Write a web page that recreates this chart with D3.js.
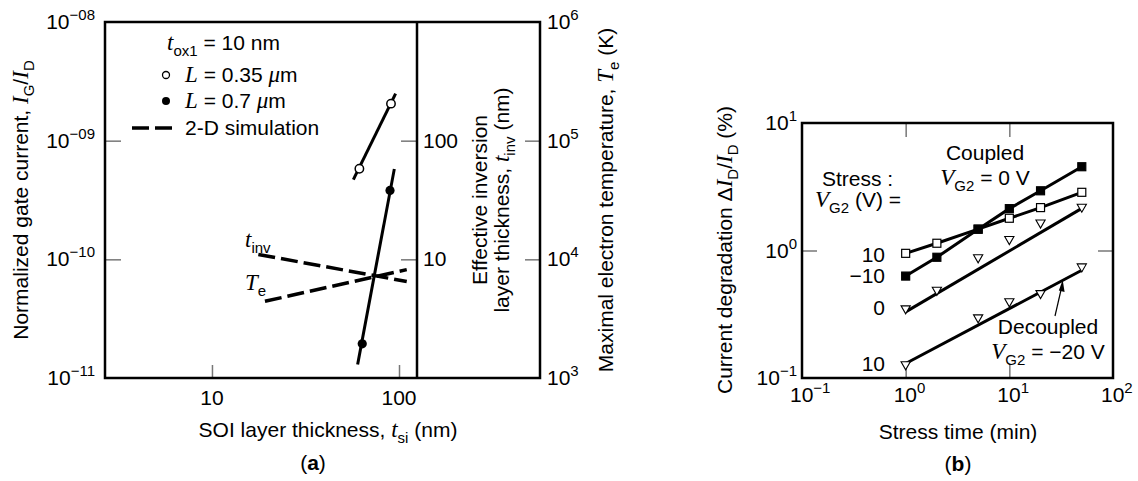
<!DOCTYPE html>
<meta charset="utf-8">
<script src="https://cdn.jsdelivr.net/npm/d3@7"></script>
<style>
body { margin: 0; background: #fff; }
text { font-family: "Liberation Sans", Arial, sans-serif; font-size: 21px; fill: #000; }
.it { font-family: "Liberation Serif", "Times New Roman", serif; font-style: italic; font-size: 23px; }
.box { fill: none; stroke: #000; stroke-width: 2.5px; }
.fit { fill: none; stroke: #000; stroke-width: 3px; }
.sim { fill: none; stroke: #000; stroke-width: 3.5px; stroke-dasharray: 17,6; }
</style>
<body>
<script>

// ---- panel (a) data ----
var tsiTicks = [10, 100];
var gateTicks = [1e-8, 1e-9, 1e-10, 1e-11];
var gateExp = ["\u221208", "\u221209", "\u221210", "\u221211"];
var tinvTicks = [100, 10];
var teTicks = [1e6, 1e5, 1e4, 1e3];
var teExp = ["6", "5", "4", "3"];

// L = 0.35 um (open circles) and its fit line
var l035 = [{x: 61.4, y: 5.8e-10}, {x: 90.6, y: 2.05e-9}];
var l035Fit = [{x: 57.0, y: 4.7e-10}, {x: 95.9, y: 2.49e-9}];
// L = 0.7 um (filled circles)
var l07 = [{x: 63.6, y: 1.94e-11}, {x: 89.5, y: 3.81e-10}];
var l07Fit = [{x: 60.1, y: 1.3e-11}, {x: 94.4, y: 5.78e-10}];
// 2-D simulation
var tinvSim = [{x: 17.7, y: 11.0}, {x: 110, y: 6.5}];
var teSim = [{x: 19.2, y: 4430}, {x: 110, y: 8190}];

// ---- panel (b) data ----
var times = [1, 2, 5, 10, 20, 50];
var vgP10 = [0.95, 1.14, 1.47, 1.79, 2.17, 2.86];   // open squares
var vgM10 = [0.63, 0.885, 1.47, 2.13, 2.94, 4.54];  // filled squares
var vg0 = [0.346, 0.484, 0.87, 1.21, 1.63, 2.17];   // triangles
var vg0Fit = [0.33, 2.14];
var decTimes = [1, 5, 10, 20, 50];
var vgDec = [0.126, 0.294, 0.393, 0.456, 0.738];
var vgDecFit = [0.13, 0.70];
var fitTimes = [1, 50];
var bxTicks = [0.1, 1, 10, 100];
var bxExp = ["\u22121", "0", "1", "2"];
var byTicks = [0.1, 1, 10];
var byExp = ["\u22121", "0", "1"];

var svg = d3.select("body").append("svg")
    .attr("width", 1138)
    .attr("height", 481);

// rich text: parts are strings or [text, kind], kind = i | sub | sup
function rich(g, x, y, parts, anchor) {
  var t = g.append("text").attr("x", x).attr("y", y)
      .attr("text-anchor", anchor || "start");
  var shift = 0;
  parts.forEach(function(p) {
    if (typeof p === "string") p = [p, ""];
    var s = t.append("tspan").text(p[0]);
    var want = p[1] === "sub" ? 6 : (p[1] === "sup" ? -9 : 0);
    if (want !== shift) { s.attr("dy", want - shift); shift = want; }
    if (p[1] === "i") s.attr("class", "it");
    if (want !== 0) s.style("font-size", "15px");
  });
  return t;
}

function tickMarks(g, axis, vals, size) {
  var a = g.append("g").call(axis.tickValues(vals).tickSize(size).tickFormat(""));
  a.select(".domain").remove();
  a.selectAll("line").attr("stroke", "#777").attr("stroke-width", 1.5);
  return a;
}

// ================= panel (a) =================
var ax = d3.scaleLog().domain([2.68, 124.8]).range([105, 417]);
var ay = d3.scaleLog().domain([1e-11, 1e-8]).range([378, 22]);
var aInv = d3.scaleLog().domain([1, 1000]).range([378, 22]);
var aTe = d3.scaleLog().domain([1e3, 1e6]).range([378, 22]);

var ga = svg.append("g");

tickMarks(ga.append("g").attr("transform", "translate(0,378)"), d3.axisBottom(ax), tsiTicks, -13);
tickMarks(ga.append("g").attr("transform", "translate(105,0)"), d3.axisLeft(ay), gateTicks.slice(1, 3), -16);
tickMarks(ga.append("g").attr("transform", "translate(417,0)"), d3.axisLeft(aInv), tinvTicks, 16);
tickMarks(ga.append("g").attr("transform", "translate(540,0)"), d3.axisLeft(aTe), teTicks.slice(1, 3), 15);

ga.append("rect").attr("class", "box").attr("x", 105).attr("y", 22).attr("width", 435).attr("height", 356);
ga.append("line").attr("x1", 417).attr("x2", 417).attr("y1", 22).attr("y2", 378)
    .attr("stroke", "#000").attr("stroke-width", 2.5);

tsiTicks.forEach(function(v) { rich(ga, ax(v), 405, [String(v)], "middle"); });
gateTicks.forEach(function(v, i) { rich(ga, 95, ay(v) + 7, ["10", [gateExp[i], "sup"]], "end"); });
tinvTicks.forEach(function(v) { rich(ga, 423, aInv(v) + 7, [String(v)]); });
teTicks.forEach(function(v, i) { rich(ga, 547, aTe(v) + 7, ["10", [teExp[i], "sup"]]); });

var lineA = d3.line().x(function(d) { return ax(d.x); }).y(function(d) { return ay(d.y); });
ga.append("path").attr("class", "fit").attr("d", lineA(l035Fit));
ga.append("path").attr("class", "fit").attr("d", lineA(l07Fit));
ga.append("path").attr("class", "sim")
    .attr("d", d3.line().x(function(d) { return ax(d.x); }).y(function(d) { return aInv(d.y); })(tinvSim));
ga.append("path").attr("class", "sim")
    .attr("d", d3.line().x(function(d) { return ax(d.x); }).y(function(d) { return aTe(d.y); })(teSim));

ga.selectAll(".o").data(l035).enter().append("circle")
    .attr("cx", function(d) { return ax(d.x); }).attr("cy", function(d) { return ay(d.y); })
    .attr("r", 4.2).attr("fill", "#fff").attr("stroke", "#000").attr("stroke-width", 1.5);
ga.selectAll(".f").data(l07).enter().append("circle")
    .attr("cx", function(d) { return ax(d.x); }).attr("cy", function(d) { return ay(d.y); })
    .attr("r", 4.6).attr("fill", "#000");

// legend
rich(ga, 167, 50, [["t", "i"], ["ox1", "sub"], " = 10 nm"]);
ga.append("circle").attr("cx", 166).attr("cy", 75).attr("r", 3.5)
    .attr("fill", "#fff").attr("stroke", "#000").attr("stroke-width", 1.3);
rich(ga, 185, 82, [["L", "i"], " = 0.35 ", ["\u03bc", "i"], "m"]);
ga.append("circle").attr("cx", 166).attr("cy", 101).attr("r", 4).attr("fill", "#000");
rich(ga, 185, 108, [["L", "i"], " = 0.7 ", ["\u03bc", "i"], "m"]);
ga.append("line").attr("class", "sim").attr("x1", 132).attr("x2", 172).attr("y1", 128).attr("y2", 128);
rich(ga, 185, 135, ["2-D simulation"]);

rich(ga, 245, 247, [["t", "i"], ["inv", "sub"]]);
rich(ga, 245, 290, [["T", "i"], ["e", "sub"]]);

// axis titles
rich(ga, 328, 437, ["SOI layer thickness, ", ["t", "i"], ["si", "sub"], " (nm)"], "middle");
rich(ga, 313, 470, ["(", ["a", ""], ")"], "middle").select("tspan:nth-child(2)").style("font-weight", "bold");
rich(ga, 0, 0, ["Normalized gate current, ", ["I", "i"], ["G", "sub"], "/", ["I", "i"], ["D", "sub"]], "middle")
    .attr("transform", "translate(28,200) rotate(-90)");
rich(ga, 0, 0, ["Effective inversion"], "middle").attr("transform", "translate(487,200) rotate(-90)");
rich(ga, 0, 0, ["layer thickness, ", ["t", "i"], ["inv", "sub"], " (nm)"], "middle")
    .attr("transform", "translate(509,200) rotate(-90)");
rich(ga, 0, 0, ["Maximal electron temperature, ", ["T", "i"], ["e", "sub"], " (K)"], "middle")
    .attr("transform", "translate(613,200) rotate(-90)");

// ================= panel (b) =================
var bx = d3.scaleLog().domain([0.1, 100]).range([802, 1113]);
var by = d3.scaleLog().domain([0.1, 10]).range([378, 123]);
var gb = svg.append("g");

tickMarks(gb.append("g").attr("transform", "translate(0,378)"), d3.axisBottom(bx), [1, 10], -14);
tickMarks(gb.append("g").attr("transform", "translate(0,123)"), d3.axisTop(bx), [1, 10], -14);
tickMarks(gb.append("g").attr("transform", "translate(802,0)"), d3.axisLeft(by), [1], -15);
tickMarks(gb.append("g").attr("transform", "translate(1113,0)"), d3.axisRight(by), [1], -15);
gb.append("rect").attr("class", "box").attr("x", 802).attr("y", 123).attr("width", 311).attr("height", 255);

bxTicks.forEach(function(v, i) { rich(gb, bx(v) - 12, 402, ["10", [bxExp[i], "sup"]]); });
byTicks.forEach(function(v, i) { rich(gb, 797, by(v) + 7, ["10", [byExp[i], "sup"]], "end"); });

var lineB = d3.line().x(function(d) { return bx(d[0]); }).y(function(d) { return by(d[1]); });
function pairs(xs, ys) { return xs.map(function(x, i) { return [x, ys[i]]; }); }

gb.append("path").attr("class", "fit").attr("d", lineB(pairs(times, vgP10)));
gb.append("path").attr("class", "fit").attr("d", lineB(pairs(times, vgM10)));
gb.append("path").attr("class", "fit").attr("d", lineB(pairs(fitTimes, vg0Fit)));
gb.append("path").attr("class", "fit").attr("d", lineB(pairs(fitTimes, vgDecFit)));

function squares(data, fill) {
  gb.append("g").selectAll("rect").data(data).enter().append("rect")
      .attr("x", function(d) { return bx(d[0]) - 4; })
      .attr("y", function(d) { return by(d[1]) - 4; })
      .attr("width", 8).attr("height", 8)
      .attr("fill", fill).attr("stroke", "#000").attr("stroke-width", 1.2);
}
function triangles(data) {
  gb.append("g").selectAll("path").data(data).enter().append("path")
      .attr("d", "M-4.6,-3.4L4.6,-3.4L0,4.6Z")
      .attr("transform", function(d) { return "translate(" + bx(d[0]) + "," + by(d[1]) + ")"; })
      .attr("fill", "#fff").attr("stroke", "#000").attr("stroke-width", 1.1);
}
squares(pairs(times, vgP10), "#fff");
squares(pairs(times, vgM10), "#000");
triangles(pairs(times, vg0));
triangles(pairs(decTimes, vgDec));

// annotations
rich(gb, 822, 186, ["Stress :"]);
rich(gb, 815, 207, [["V", "i"], ["G2", "sub"], " (V) ="]);
rich(gb, 885, 262, ["10"], "end");
rich(gb, 885, 283, ["\u221210"], "end");
rich(gb, 885, 315, ["0"], "end");
rich(gb, 885, 371, ["10"], "end");
rich(gb, 985, 160, ["Coupled"], "middle");
rich(gb, 985, 185, [["V", "i"], ["G2", "sub"], " = 0 V"], "middle");
rich(gb, 1048, 334, ["Decoupled"], "middle");
rich(gb, 1048, 359, [["V", "i"], ["G2", "sub"], " = \u221220 V"], "middle");
gb.append("line").attr("x1", 1055).attr("y1", 316).attr("x2", 1061).attr("y2", 290)
    .attr("stroke", "#000").attr("stroke-width", 1.2);
gb.append("path").attr("d", "M1062.7,280L1064.6,292L1058.8,290.6Z").attr("fill", "#000");

rich(gb, 958, 439, ["Stress time (min)"], "middle");
rich(gb, 958, 471, ["(", ["b", ""], ")"], "middle").select("tspan:nth-child(2)").style("font-weight", "bold");
rich(gb, 0, 0, ["Current degradation \u0394", ["I", "i"], ["D", "sub"], "/", ["I", "i"], ["D", "sub"], " (%)"], "middle")
    .attr("transform", "translate(732,250) rotate(-90)");

</script>
</body>
</html>
